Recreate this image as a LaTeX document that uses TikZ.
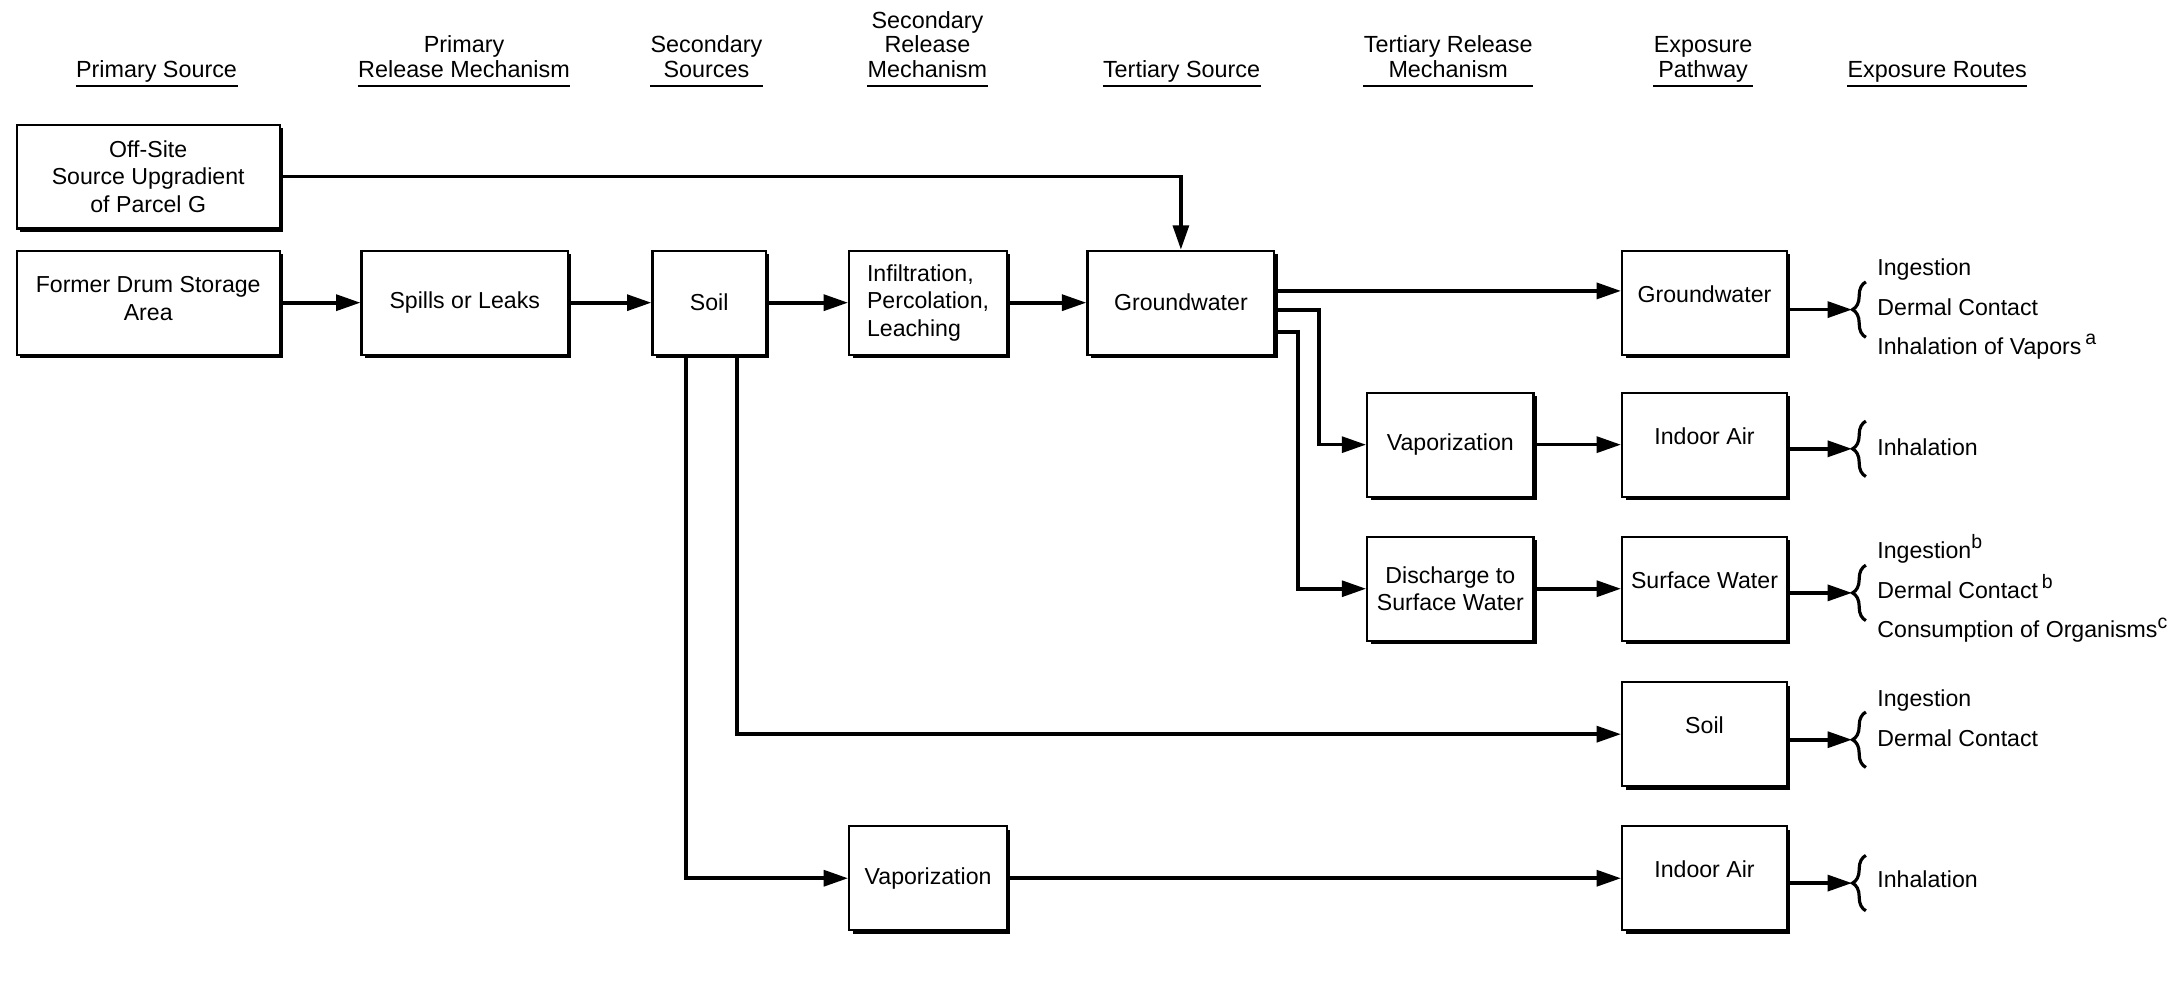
\documentclass[tikz,border=0pt]{standalone}
\usepackage{fontspec}
\setmainfont{Liberation Sans}
\usetikzlibrary{positioning,arrows.meta,calc,shadows,decorations.pathreplacing}

\newcommand{\supnote}[1]{\raisebox{0.8ex}{\fontsize{8}{8}\selectfont #1}}

\tikzset{
  box/.style={draw, line width=0.9pt, fill=white, align=center, minimum height=1.5cm, inner sep=2pt,
    drop shadow={shadow xshift=1.4pt, shadow yshift=-1.4pt, fill=black, opacity=1}},
  expbox/.style={box, minimum width=2.38cm, text depth=0.25cm},
  conn/.style={line width=1.5pt, -{Triangle[length=10pt,width=6.5pt]}},
  hdr/.style={align=center, inner sep=0pt, text depth=0pt, anchor=south, font=\fontsize{9.6}{10}\selectfont},
  uline/.style={line width=0.8pt},
  brc/.style={decorate, decoration={brace, amplitude=5.5pt}, line width=1.3pt},
  route/.style={anchor=base west, inner sep=0pt},
}

\begin{document}
\begin{tikzpicture}[x=0.02cm, y=-0.02cm, font=\fontsize{9.5}{11.3}\selectfont]
\useasboundingbox (0,0) rectangle (1568,725);

% column headings
\node[hdr] (hPS) at (113,56) {Primary Source};
\node[hdr] (hPRM) at (335,56) {Primary\\Release Mechanism};
\node[hdr] (hSS) at (510,56) {Secondary\\Sources};
\node[hdr] (hSRM) at (669.5,56) {Secondary\\Release\\Mechanism};
\node[hdr] (hTS) at (853,56) {Tertiary Source};
\node[hdr] (hTRM) at (1045.5,56) {Tertiary Release\\Mechanism};
\node[hdr] (hEP) at (1229.5,56) {Exposure\\Pathway};
\node[hdr] (hER) at (1398.5,56) {Exposure Routes};
\foreach \h in {hPS,hPRM,hSS,hSRM,hTS,hTRM,hEP,hER}
  \draw[uline] ([yshift=-0.12cm]\h.south west) -- ([yshift=-0.12cm]\h.south east);

% sources and release mechanisms
\node[box, minimum width=3.8cm] (offsite) at (107,127.5) {Off-Site\\Source Upgradient\\of Parcel G};
\node[box, minimum width=3.8cm, text depth=0.12cm] (drum) at (107,218.5) {Former Drum Storage\\Area};
\node[box, minimum width=2.98cm] (spills) at (335.5,218.5) {Spills or Leaks};
\node[box, minimum width=1.64cm] (soilA) at (512,218.5) {Soil};
\node[box, minimum width=2.28cm, align=left] (infil) at (670,218.5) {Infiltration,\\Percolation,\\Leaching};
\node[box, minimum width=2.7cm] (gwA) at (852.5,218.5) {Groundwater};
\node[box, minimum width=2.4cm] (vapA) at (1047,321) {Vaporization};
\node[box, minimum width=2.4cm] (disch) at (1047,425) {Discharge to\\Surface Water};
\node[box, minimum width=2.28cm] (vapB) at (670,634) {Vaporization};

% exposure pathways
\node[expbox] (gwB) at (1230.5,218.5) {Groundwater};
\node[expbox] (iaA) at (1230.5,321) {Indoor Air};
\node[expbox] (sw) at (1230.5,425) {Surface Water};
\node[expbox] (soilB) at (1230.5,530) {Soil};
\node[expbox] (iaB) at (1230.5,634) {Indoor Air};

% bends and brace tips
\coordinate (jv) at (952,321);
\coordinate (jd) at (937,425);
\coordinate (tGW) at (1337,223.5);
\coordinate (tIA) at (1337,324);
\coordinate (tSW) at (1337,428);
\coordinate (tSO) at (1337,534);
\coordinate (tIB) at (1337,637.5);

\draw[conn] (offsite.east) -| (gwA.north);
\draw[conn] (drum) -- (spills); \draw[conn] (spills) -- (soilA);
\draw[conn] (soilA) -- (infil); \draw[conn] (infil) -- (gwA);
\draw[conn] ([yshift=0.17cm]gwA.east) -- ([yshift=0.17cm]gwB.west);
\draw[conn] ([yshift=-0.11cm]gwA.east) -| (jv) -- (vapA.west);
\draw[conn] ([yshift=-0.42cm]gwA.east) -| (jd) -- (disch.west);
\draw[conn] (vapA) -- (iaA); \draw[conn] (disch) -- (sw);
\draw[conn] ([xshift=0.40cm]soilA.south) |- (soilB.west);
\draw[conn] ([xshift=-0.34cm]soilA.south) |- (vapB.west);
\draw[conn] (vapB) -- (iaB);
\draw[conn] (gwB.east |- tGW) -- (tGW);
\draw[conn] (iaA.east |- tIA) -- (tIA);
\draw[conn] (sw.east |- tSW) -- (tSW);
\draw[conn] (soilB.east |- tSO) -- (tSO);
\draw[conn] (iaB.east |- tIB) -- (tIB);

% exposure routes
\foreach \t in {tGW,tIA,tSW,tSO,tIB}
  \draw[brc] ($(\t)+(10,20)$) -- ($(\t)+(10,-20)$);
\node[route] (rGW1) at (1355,199) {Ingestion};
\node[route] (rGW2) at (1355,228) {Dermal Contact};
\node[route] (rGW3) at (1355,256) {Inhalation of Vapors\,\supnote{a}};
\node[route] (rIA1) at (1355,328.5) {Inhalation};
\node[route] (rSW1) at (1355,403) {Ingestion\supnote{b}};
\node[route] (rSW2) at (1355,432) {Dermal Contact\,\supnote{b}};
\node[route] (rSW3) at (1355,460.5) {Consumption of Organisms\supnote{c}};
\node[route] (rSO1) at (1355,510) {Ingestion};
\node[route] (rSO2) at (1355,539) {Dermal Contact};
\node[route] (rIB1) at (1355,641) {Inhalation};
\end{tikzpicture}
\end{document}
